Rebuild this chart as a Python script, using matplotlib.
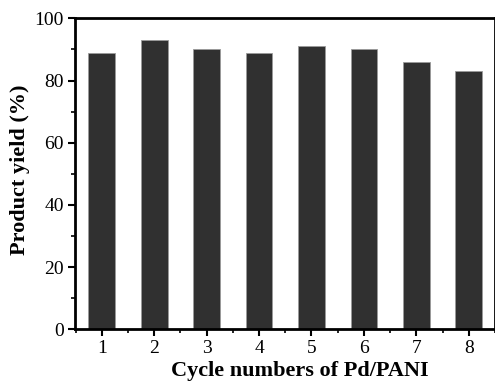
import matplotlib
matplotlib.use("Agg")
import matplotlib.pyplot as plt
from matplotlib.ticker import MultipleLocator

cycles = [1, 2, 3, 4, 5, 6, 7, 8]
yields = [89, 93, 90, 89, 91, 90, 86, 83]
tick_labels = ["1", "2", "3", "4", "5", "6", "7", "8"]

plt.rcParams['font.family'] = ['Liberation Serif', 'DejaVu Serif']

fig = plt.figure(figsize=(4.95, 3.82), dpi=100)
ax = fig.add_axes([75/495, 1-329.3/382, (495-75)/495, (329.3-18.3)/382])
ax.bar(cycles, yields, width=0.51, color='#303030', edgecolor='#9a9a9a', linewidth=0.6)
ax.set_xlim(0.49, 8.5)
ax.set_ylim(0, 100)
ax.set_xticks(cycles)
ax.set_xticklabels(tick_labels)
ax.xaxis.set_minor_locator(MultipleLocator(0.5))
ax.yaxis.set_major_locator(MultipleLocator(20))
ax.yaxis.set_minor_locator(MultipleLocator(10))
ax.tick_params(which='major', direction='out', length=5, width=1.5, labelsize=14, pad=3)
ax.tick_params(which='minor', direction='out', length=3, width=1.2)
ax.tick_params(axis='x', which='minor', bottom=True)
for s in ax.spines.values():
    s.set_linewidth(2)
ax.set_xlabel('Cycle numbers of Pd/PANI', fontsize=16, fontweight='bold', va='baseline')
ax.xaxis.set_label_coords(0.5345, -0.150)
ax.set_ylabel('Product yield (%)', fontsize=16, fontweight='bold', va='baseline')
ax.yaxis.set_label_coords(-0.118, 0.512)
fig.savefig('out.png', dpi=100)
